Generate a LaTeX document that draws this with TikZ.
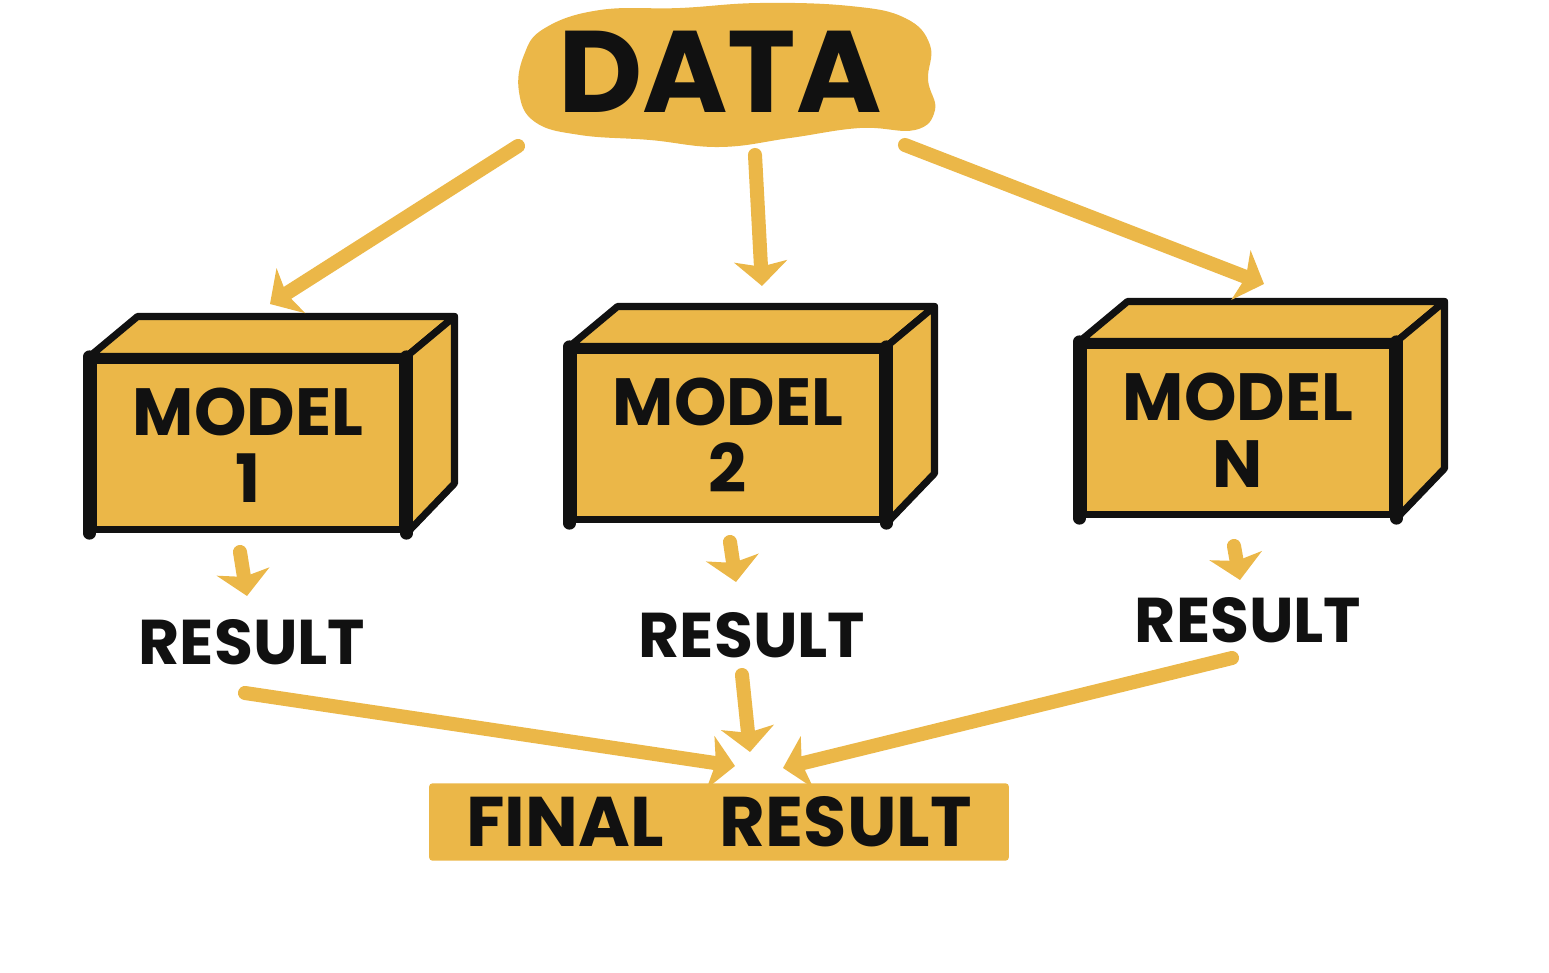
\documentclass[tikz,border=0pt]{standalone}
\usepackage{fontspec}
\setmainfont{Poppins}
\usetikzlibrary{arrows.meta,calc}
\definecolor{marker}{HTML}{EBB748}
\definecolor{ink}{HTML}{111111}
\tikzset{
  front/.style={draw=ink, fill=marker, line width=4pt, line join=round, minimum width=6.2cm, minimum height=3.4cm, align=center, font=\fontsize{38}{38}\selectfont\bfseries, text=ink, inner sep=0pt},
  face/.style={draw=ink, fill=marker, line width=4pt, line join=round},
  edge/.style={draw=ink, line width=7pt, line cap=round},
  flow/.style={draw=marker, line width=8pt, line cap=round, -{Stealth[length=14pt,width=30pt,inset=3pt,fill=marker]}},
  label/.style={font=\fontsize{36}{36}\selectfont\bfseries, text=ink, inner sep=2pt},
}
\begin{document}
\begin{tikzpicture}[x=0.02cm,y=-0.02cm]
\useasboundingbox (0,0) rectangle (1549,973);
% DATA blob
\fill[marker] plot[smooth cycle, tension=0.7] coordinates {(545,28) (600,10) (680,8) (760,3) (850,6) (905,18) (930,45) (928,80) (935,110) (915,130) (860,128) (790,138) (720,147) (650,140) (580,135) (535,122) (519,92) (524,55)};
\node[font=\fontsize{66}{66}\selectfont\bfseries, text=ink] (data) at (720,72) {DATA};
% boxes
\foreach \n/\cx/\cy/\t in {m1/248/445/1, m2/728/435/2, m3/1238/430/N}{
  \node[front] (\n) at (\cx,\cy) {MODEL\\\t};
  \draw[face] (\n.north west) -- ($(\n.north west)+(48,-40)$) -- ($(\n.north east)+(48,-40)$) -- (\n.north east) -- cycle;
  \draw[face] (\n.north east) -- ($(\n.north east)+(48,-40)$) -- ($(\n.south east)+(48,-50)$) -- (\n.south east) -- cycle;
  \draw[edge] (\n.north west) -- (\n.south west);
  \draw[edge] (\n.north east) -- (\n.south east);
}
% result labels
\node[label] (r1) at (252,642) {RESULT};
\node[label] (r2) at (752,635) {RESULT};
\node[label] (r3) at (1248,620) {RESULT};
% final result
\node[fill=marker, minimum width=11.6cm, minimum height=1.55cm, rounded corners=2pt, font=\fontsize{40}{40}\selectfont\bfseries, text=ink] (final) at (719,822) {FINAL\hspace{0.8em}RESULT};
% coordinates for arrows
\coordinate (d1) at (518,146);
\coordinate (d2) at (755,155);
\coordinate (d3) at (905,145);
\coordinate (t1) at (270,304);
\coordinate (t2) at (762,286);
\coordinate (t3) at (1264,284);
\draw[flow] (d1) -- (t1);
\draw[flow] (d2) -- (t2);
\draw[flow] (d3) -- (t3);
% model -> result
\coordinate (b1) at (240,552);
\coordinate (b2) at (730,542);
\coordinate (b3) at (1234,546);
\coordinate (e1) at (247,596);
\coordinate (e2) at (736,582);
\coordinate (e3) at (1240,580);
\draw[flow] (b1) -- (e1);
\draw[flow] (b2) -- (e2);
\draw[flow] (b3) -- (e3);
% result -> final
\coordinate (s1) at (245,693);
\coordinate (s2) at (742,675);
\coordinate (s3) at (1232,658);
\coordinate (f1) at (735,766);
\coordinate (f2) at (750,752);
\coordinate (f3) at (783,768);
\draw[flow] (s1) -- (f1);
\draw[flow] (s2) -- (f2);
\draw[flow] (s3) -- (f3);
\end{tikzpicture}
\end{document}
